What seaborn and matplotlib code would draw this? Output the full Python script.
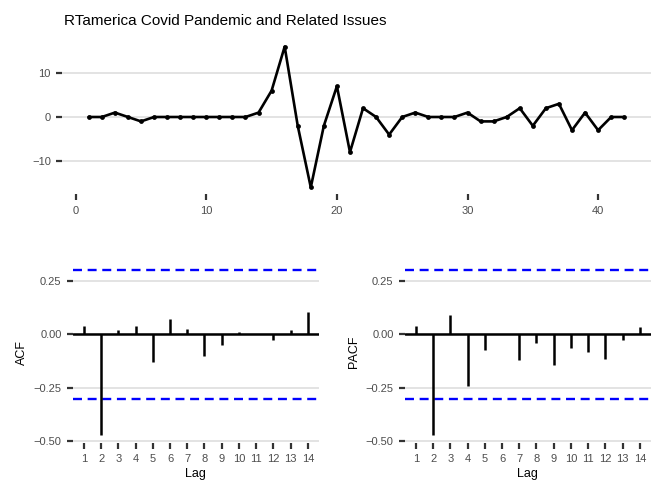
import numpy as np
import pandas as pd
import seaborn as sns
import matplotlib
matplotlib.use("Agg")
import matplotlib.pyplot as plt
from matplotlib.ticker import FuncFormatter

# series shown in the top panel
series = [0, 0, 1, 0, -1, 0, 0, 0, 0, 0, 0, 0, 0, 1, 6, 16, -2, -16, -2, 7,
          -8, 2, 0, -4, 0, 1, 0, 0, 0, 1, -1, -1, 0, 2, -2, 2, 3, -3, 1, -3,
          0, 0]
lags = list(range(1, 15))
acf_vals = [0.039, -0.47, 0.02, 0.04, -0.128, 0.072, 0.023, -0.10, -0.05,
            0.011, 0.002, -0.027, 0.022, 0.105]
pacf_vals = [0.039, -0.47, 0.09, -0.242, -0.073, 0.002, -0.122, -0.039,
             -0.142, -0.066, -0.084, -0.114, -0.028, 0.033]
title = "RTamerica Covid Pandemic and Related Issues"

n = len(series)
conf = 1.96 / np.sqrt(n)

sns.set_theme(style="white")
plt.rcParams["font.family"] = ["Liberation Sans", "DejaVu Sans"]

W, H = 664, 498
fig = plt.figure(figsize=(W / 100, H / 100), dpi=100)


def px_axes(left, top, right, bottom):
    return fig.add_axes([left / W, 1 - bottom / H, (right - left) / W, (bottom - top) / H])


def style(ax):
    for s in ax.spines.values():
        s.set_visible(False)
    ax.yaxis.grid(True, color="#dedede", lw=1.2)
    ax.xaxis.grid(False)
    ax.set_axisbelow(True)
    ax.tick_params(axis="both", bottom=True, left=True, direction="out",
                   length=4.5, width=1.6, color="#333333",
                   labelcolor="#4d4d4d", labelsize=8, pad=3.5)


df = pd.DataFrame({"t": np.arange(1, n + 1), "y": series})

ax0 = px_axes(62, 39.6, 651, 194.4)
sns.lineplot(data=df, x="t", y="y", ax=ax0, color="black", lw=1.9)
sns.scatterplot(data=df, x="t", y="y", ax=ax0, color="black", s=12,
                edgecolor="black", linewidth=0, zorder=3)
ax0.set_xlim(-1.05, 44.05)
ax0.set_ylim(-17.6, 17.6)
ax0.set_xticks([0, 10, 20, 30, 40])
ax0.set_yticks([-10, 0, 10])
ax0.set_xlabel("")
ax0.set_ylabel("")
style(ax0)
fig.text(64 / W, 1 - 25 / H, title, fontsize=11, color="black", ha="left", va="baseline")

fmt = FuncFormatter(lambda v, p: f"{v:.2f}".replace("-", "\u2212"))

for left, right, vals, lab in [(72.7, 319, acf_vals, "ACF"), (404.7, 651, pacf_vals, "PACF")]:
    ax = px_axes(left, 261.5, right, 443)
    ax.axhline(0, color="black", lw=1.8, zorder=2)
    ax.vlines(lags, 0, vals, color="black", lw=1.8, zorder=3)
    ax.axhline(conf, color="#0000ff", lw=1.7, ls=(0, (3.8, 2.4)), zorder=2)
    ax.axhline(-conf, color="#0000ff", lw=1.7, ls=(0, (3.8, 2.4)), zorder=2)
    ax.set_xlim(0.35, 14.65)
    ax.set_ylim(-0.509, 0.341)
    ax.set_xticks(lags)
    ax.set_yticks([-0.5, -0.25, 0, 0.25])
    ax.yaxis.set_major_formatter(fmt)
    style(ax)
    ax.set_xlabel("Lag", fontsize=9, color="black", labelpad=3)
    ax.set_ylabel(lab, fontsize=9, color="black", labelpad=4)

fig.savefig("out.png", dpi=100, facecolor="white")
